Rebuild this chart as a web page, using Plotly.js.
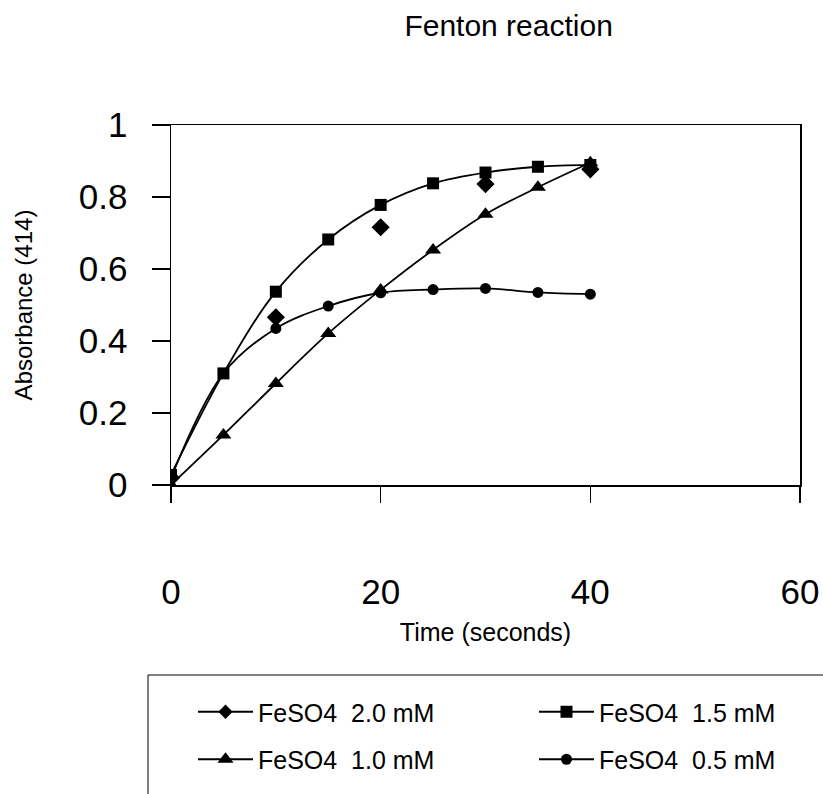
<!DOCTYPE html>
<html>
<head>
<meta charset="utf-8">
<script src="https://cdn.plot.ly/plotly-3.0.1.min.js"></script>
<style>html,body{margin:0;padding:0;background:#fff;}#chart{width:823px;height:794px;}</style>
</head>
<body>
<div id="chart"></div>
<script>
// Data
const timeFull = [0, 5, 10, 15, 20, 25, 30, 35, 40];
const timeDiamond = [0, 10, 20, 30, 40];

const fe20 = [0.02, 0.466, 0.716, 0.836, 0.877];                             // FeSO4 2.0 mM (markers only in plot)
const fe15 = [0.028, 0.31, 0.537, 0.682, 0.778, 0.838, 0.868, 0.884, 0.889]; // FeSO4 1.5 mM
const fe10 = [0.0, 0.139, 0.282, 0.421, 0.542, 0.653, 0.752, 0.827, 0.895];  // FeSO4 1.0 mM
const fe05 = [0.02, 0.31, 0.435, 0.497, 0.534, 0.543, 0.546, 0.535, 0.530];  // FeSO4 0.5 mM

const names = ['FeSO4  2.0 mM', 'FeSO4  1.5 mM', 'FeSO4  1.0 mM', 'FeSO4  0.5 mM'];
const xTicks = [0, 20, 40, 60];
const yTicks = [0, 0.2, 0.4, 0.6, 0.8, 1];

const FONT = 'Liberation Sans, Arial, sans-serif';
const LW = 1.8;
const lineStyle = {color: '#000', width: LW, shape: 'spline', smoothing: 1};

const traces = [
  {x: timeDiamond, y: fe20, mode: 'markers', name: names[0], showlegend: false,
   marker: {symbol: 'diamond', size: 14, color: '#000'}},
  // legend entry for the 2.0 mM series (line + diamond, as in the reference legend)
  {x: [null], y: [null], mode: 'lines+markers', name: names[0], legend: 'legend', legendgroup: 'a',
   line: {color: '#000', width: LW}, marker: {symbol: 'diamond', size: 11, color: '#000'}},
  {x: timeFull, y: fe10, mode: 'lines+markers', name: names[2], legend: 'legend', legendgroup: 'b',
   line: lineStyle, marker: {symbol: 'triangle-up', size: 14, color: '#000'}},
  {x: timeFull, y: fe15, mode: 'lines+markers', name: names[1], legend: 'legend2', legendgroup: 'c',
   line: lineStyle, marker: {symbol: 'square', size: 12, color: '#000'}},
  {x: timeFull, y: fe05, mode: 'lines+markers', name: names[3], legend: 'legend2', legendgroup: 'd',
   line: lineStyle, marker: {symbol: 'circle', size: 11, color: '#000'}}
];

const legendCommon = {
  orientation: 'v', xanchor: 'left', yanchor: 'top', y: -0.5667,
  borderwidth: 0, bgcolor: 'rgba(0,0,0,0)',
  font: {size: 25, family: FONT, color: '#000'},
  itemwidth: 55, tracegroupgap: 12, traceorder: 'grouped'
};

const layout = {
  width: 823, height: 794,
  margin: {l: 171, r: 23, t: 125, b: 309, pad: 0},
  paper_bgcolor: '#fff', plot_bgcolor: '#fff',
  font: {family: FONT, color: '#000'},
  showlegend: true,
  title: {text: 'Fenton reaction', font: {size: 30, family: FONT, color: '#000'},
          x: 0.618, xref: 'container', xanchor: 'center', y: 0.968, yref: 'container', yanchor: 'middle'},
  xaxis: {
    range: [0, 60], tickvals: xTicks, ticktext: xTicks.map(String),
    ticks: 'outside', ticklen: 16, tickwidth: 1.2, tickcolor: '#000',
    ticklabelstandoff: 59,
    tickfont: {size: 35, family: FONT},
    showline: true, linecolor: '#000', linewidth: 1.5, mirror: true,
    showgrid: false, zeroline: false,
    title: {text: 'Time (seconds)', font: {size: 25, family: FONT}, standoff: 14}
  },
  yaxis: {
    range: [0, 1], tickvals: yTicks, ticktext: yTicks.map(String),
    ticks: 'outside', ticklen: 18, tickwidth: 1.2, tickcolor: '#000',
    ticklabelstandoff: 17,
    tickfont: {size: 35, family: FONT},
    showline: true, linecolor: '#000', linewidth: 1.5, mirror: true,
    showgrid: false, zeroline: false,
    title: {text: 'Absorbance (414)', font: {size: 24, family: FONT}, standoff: 39}
  },
  legend: Object.assign({}, legendCommon, {x: (193 - 171) / 629}),
  legend2: Object.assign({}, legendCommon, {x: (534 - 171) / 629}),
  shapes: [{
    type: 'rect', xref: 'paper', yref: 'paper',
    x0: (148 - 171) / 629, x1: 1.1, y0: (485 - 675) / 360, y1: (485 - 810) / 360,
    line: {color: '#000', width: 1}, fillcolor: 'rgba(0,0,0,0)', layer: 'below'
  }]
};

Plotly.newPlot('chart', traces, layout, {displayModeBar: false, staticPlot: true});
</script>
</body>
</html>
